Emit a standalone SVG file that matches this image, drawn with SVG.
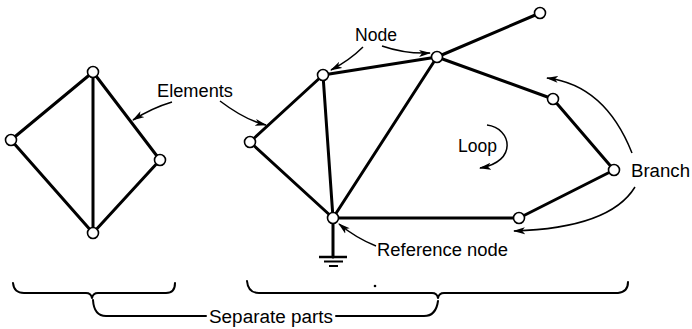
<svg xmlns="http://www.w3.org/2000/svg" width="692" height="329" viewBox="0 0 692 329">
<style>
.edge{stroke:#000;stroke-width:3;fill:none;stroke-linecap:round}
.arr{stroke:#000;stroke-width:1.5;fill:none;marker-end:url(#ah)}
.brace{stroke:#000;stroke-width:2;fill:none;stroke-linecap:round;stroke-linejoin:round}
.node{fill:#fff;stroke:#000;stroke-width:1.6}
text{font-family:"Liberation Sans",Arial,sans-serif;font-size:18px;fill:#000}
</style>
<defs>
<marker id="ah" viewBox="0 0 12 8" refX="11" refY="4" markerWidth="12" markerHeight="8" markerUnits="userSpaceOnUse" orient="auto">
<path d="M0,0.5 L12,4 L0,7.5 L3,4 z" fill="#000"/>
</marker>
</defs>
<rect width="692" height="329" fill="#fff"/>
<g id="connectors">
<!-- left part -->
<line class="edge" x1="93" y1="72" x2="11" y2="140"/>
<line class="edge" x1="93" y1="72" x2="160" y2="160"/>
<line class="edge" x1="93" y1="72" x2="93" y2="233"/>
<line class="edge" x1="11" y1="140" x2="93" y2="233"/>
<line class="edge" x1="160" y1="160" x2="93" y2="233"/>
<!-- right part -->
<line class="edge" x1="250" y1="142" x2="323" y2="75"/>
<line class="edge" x1="250" y1="142" x2="333" y2="218"/>
<line class="edge" x1="323" y1="75" x2="333" y2="218"/>
<line class="edge" x1="323" y1="75" x2="437" y2="57"/>
<line class="edge" x1="437" y1="57" x2="333" y2="218"/>
<line class="edge" x1="437" y1="57" x2="540" y2="13"/>
<line class="edge" x1="437" y1="57" x2="553" y2="99"/>
<line class="edge" x1="553" y1="99" x2="614" y2="170"/>
<line class="edge" x1="614" y1="170" x2="519" y2="218"/>
<line class="edge" x1="519" y1="218" x2="333" y2="218"/>
<!-- ground -->
<line class="edge" x1="333" y1="218" x2="333" y2="257"/>
<line stroke="#000" stroke-width="2.5" x1="319" y1="257" x2="347" y2="257"/>
<line stroke="#000" stroke-width="2" x1="324" y1="261.5" x2="343" y2="261.5"/>
<line stroke="#000" stroke-width="2" x1="329" y1="266" x2="338" y2="266"/>
<!-- label arrows -->
<path class="arr" d="M172,102 Q152,108 133,120"/>
<path class="arr" d="M220,101 Q245,120 266,125"/>
<path class="arr" d="M363,47 Q350,60 331,70"/>
<path class="arr" d="M382,46 Q405,54 430,53"/>
<path class="arr" d="M487,125 C512,128 518,162 480,168"/>
<path class="arr" d="M632,153 Q605,85 547,78"/>
<path class="arr" d="M635,187 Q610,228 514,231"/>
<path class="arr" d="M376,246 Q356,238 339,224"/>
<!-- braces -->
<path class="brace" d="M13,283 Q14,293 24,293 L86,293 Q91,293 92,298 Q93,293 98,293 L166,293 Q175,293 175,283"/>
<path class="brace" d="M247,281 Q248,293 259,293 L432,293 Q437,293 438,298 Q439,293 444,293 L618,293 Q628,292 628,282"/>
<path class="brace" d="M93,300 Q94,316 106,316 L206,316"/>
<path class="brace" d="M336,316 L424,316 Q436,316 438,301"/>
<circle cx="375" cy="286" r="1.3" fill="#000"/>
</g>
<g id="n-l-top"><circle class="node" cx="93" cy="72" r="5.5"/></g>
<g id="n-l-left"><circle class="node" cx="11" cy="140" r="5.5"/></g>
<g id="n-l-right"><circle class="node" cx="160" cy="160" r="5.5"/></g>
<g id="n-l-bottom"><circle class="node" cx="93" cy="233" r="5.5"/></g>
<g id="n-r-left"><circle class="node" cx="250" cy="142" r="5.5"/></g>
<g id="n-r-a"><circle class="node" cx="323" cy="75" r="5.5"/></g>
<g id="n-r-b"><circle class="node" cx="437" cy="57" r="5.5"/></g>
<g id="n-r-top"><circle class="node" cx="540" cy="13" r="5.5"/></g>
<g id="n-r-c"><circle class="node" cx="553" cy="99" r="5.5"/></g>
<g id="n-r-d"><circle class="node" cx="614" cy="170" r="5.5"/></g>
<g id="n-r-e"><circle class="node" cx="519" cy="218" r="5.5"/></g>
<g id="n-ref"><circle class="node" cx="333" cy="218" r="5.5"/></g>
<g id="labels">
<text x="157" y="97" textLength="76" lengthAdjust="spacingAndGlyphs">Elements</text>
<text x="355" y="41" textLength="42" lengthAdjust="spacingAndGlyphs">Node</text>
<text x="458" y="152" textLength="39" lengthAdjust="spacingAndGlyphs">Loop</text>
<text x="631" y="177" textLength="59" lengthAdjust="spacingAndGlyphs">Branch</text>
<text x="377" y="256" textLength="131" lengthAdjust="spacingAndGlyphs">Reference node</text>
<text x="209" y="323" textLength="124" lengthAdjust="spacingAndGlyphs">Separate parts</text>
</g>
</svg>
